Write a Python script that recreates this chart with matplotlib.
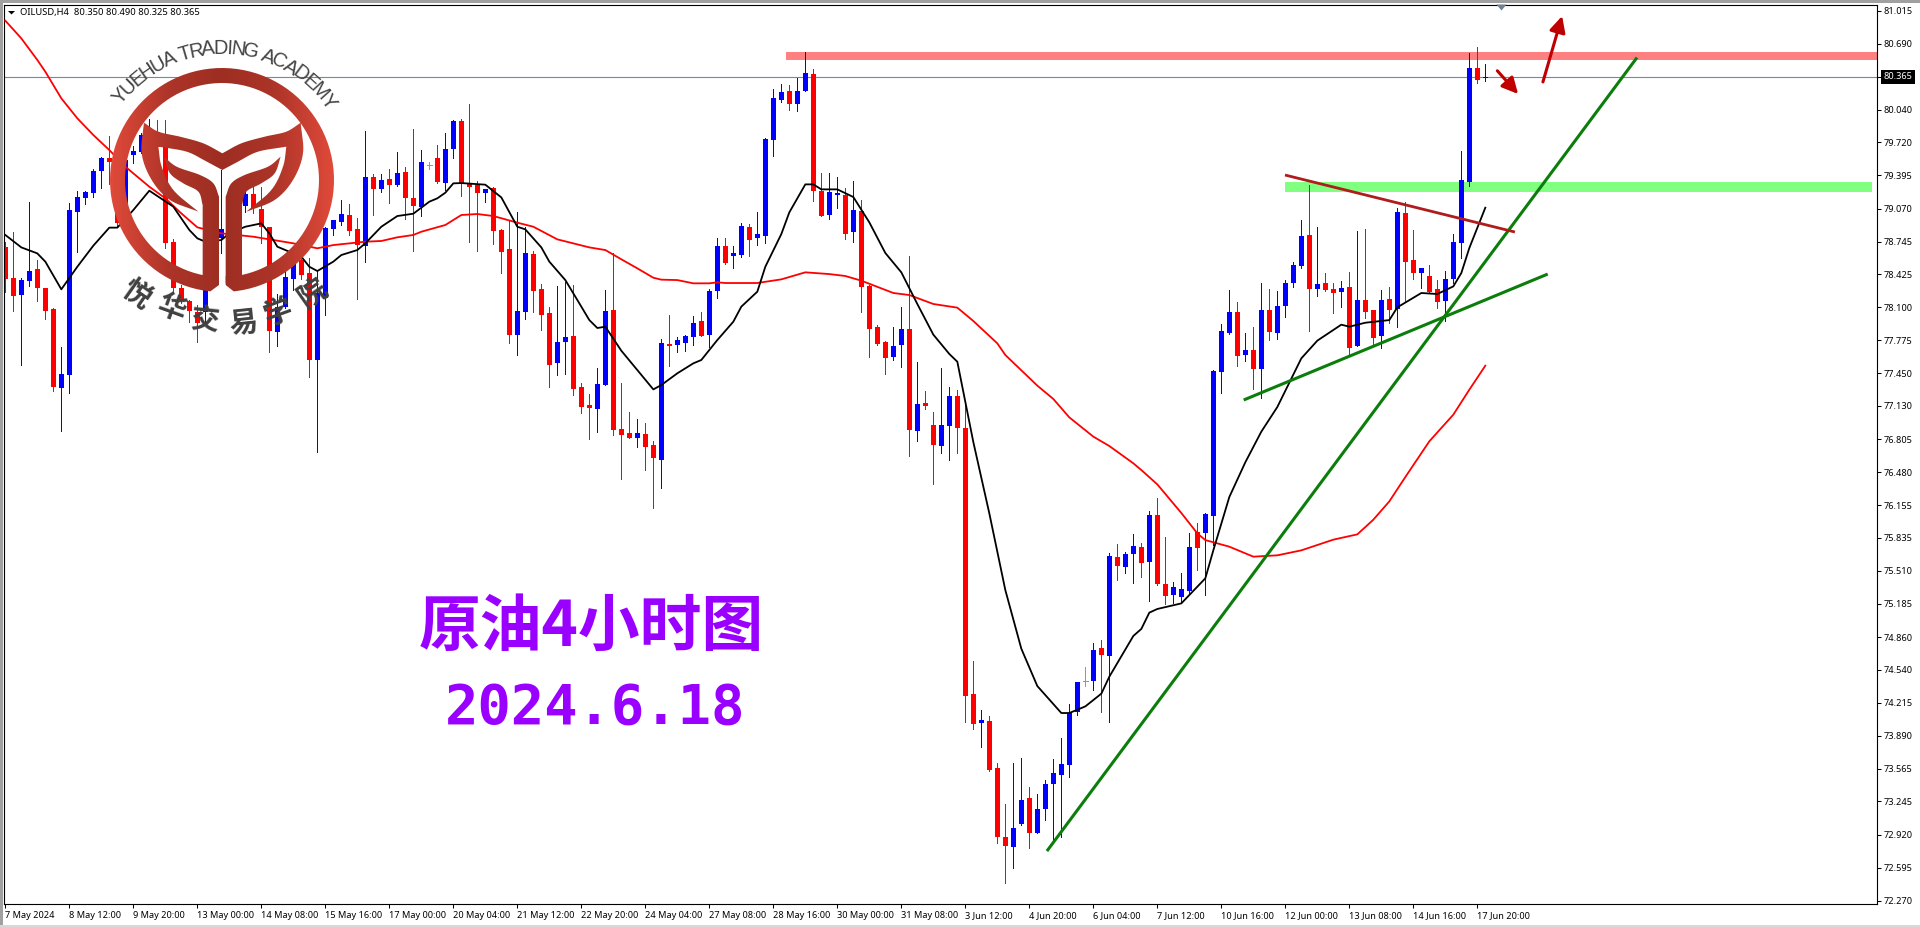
import numpy as np
import matplotlib
matplotlib.use("Agg")
import matplotlib.pyplot as plt
from matplotlib.colors import LinearSegmentedColormap
from matplotlib.font_manager import FontProperties
from matplotlib.path import Path
from matplotlib.patches import Polygon, Rectangle
from matplotlib.textpath import TextPath

# OILUSD H4 candles
opens = [78.695,78.384,78.223,78.358,78.472,78.286,78.083,77.310,77.438,79.039,
         79.173,79.225,79.441,79.563,79.530,78.931,79.595,79.628,79.792,79.825,
         79.677,78.744,78.292,78.161,78.056,78.056,78.826,78.783,78.859,79.022,
         79.094,79.209,79.062,78.891,77.860,78.106,78.374,78.564,78.433,77.582,
         78.187,78.868,78.937,79.006,78.868,78.705,79.376,79.261,79.360,79.301,
         79.428,79.173,79.088,79.497,79.566,79.317,79.658,79.929,79.317,79.301,
         79.225,79.271,78.859,78.669,77.831,78.056,78.623,78.279,78.040,77.555,
         77.762,77.817,77.313,77.136,77.104,77.339,78.073,76.904,76.861,76.819,
         76.855,76.743,76.603,77.739,77.732,77.752,77.811,77.961,77.831,78.263,
         78.702,78.607,78.616,78.888,78.780,78.803,79.746,80.136,80.224,80.096,
         80.224,80.391,79.242,79.009,79.202,79.199,78.836,79.042,78.305,77.906,
         77.758,77.614,77.729,77.886,76.887,77.159,76.943,76.737,76.937,77.228,
         76.917,74.301,74.019,74.036,73.574,72.896,72.801,73.020,73.279,72.932,
         73.168,73.413,73.508,73.603,74.121,74.425,74.432,74.753,74.671,75.650,
         75.548,75.673,75.745,75.594,76.059,75.378,75.270,75.250,75.309,75.892,
         75.879,76.049,77.460,77.847,78.053,77.634,77.680,77.497,78.073,77.847,
         78.115,78.338,78.505,78.806,78.279,78.338,78.276,78.253,78.299,77.716,
         78.171,78.073,77.817,78.181,78.086,79.026,78.561,78.440,78.407,78.276,
         78.165,78.374,78.734,79.330,80.450,80.350]
closes = [78.374,78.214,78.367,78.456,78.286,78.066,77.320,77.444,79.055,79.180,
          79.232,79.438,79.563,79.530,78.931,79.546,79.635,79.792,79.825,79.677,
          78.734,78.286,78.171,78.063,77.942,78.826,78.859,78.865,79.022,79.094,
          79.209,79.072,78.891,77.870,78.106,78.394,78.531,78.417,77.582,78.236,
          78.875,78.957,79.016,78.852,78.711,79.376,79.261,79.350,79.301,79.415,
          79.176,79.094,79.527,79.497,79.333,79.654,79.929,79.317,79.284,79.225,
          79.261,78.852,78.646,77.831,78.060,78.629,78.263,78.027,77.536,77.755,
          77.804,77.300,77.123,77.113,77.346,78.060,76.894,76.845,76.819,76.861,
          76.730,76.622,77.745,77.722,77.775,77.817,77.942,77.821,78.259,78.702,
          78.538,78.633,78.898,78.764,78.819,79.753,80.155,80.214,80.096,80.224,
          80.401,79.242,78.996,79.229,79.222,78.816,79.052,78.295,77.889,77.739,
          77.605,77.719,77.886,76.891,77.149,77.133,76.747,76.943,77.228,76.917,
          74.284,74.009,74.045,73.554,72.896,72.811,72.988,73.263,72.932,73.168,
          73.413,73.525,73.613,74.114,74.415,74.425,74.736,74.681,75.653,75.558,
          75.673,75.755,75.584,76.059,75.384,75.267,75.352,75.332,75.745,75.738,
          76.069,77.477,77.866,78.053,77.624,77.680,77.493,78.073,77.860,78.115,
          78.338,78.515,78.800,78.276,78.328,78.269,78.243,78.289,77.700,78.171,
          78.053,77.801,78.171,78.073,79.035,78.548,78.440,78.485,78.250,78.155,
          78.374,78.741,79.350,80.450,80.332,80.365]
highs = [78.744,78.836,78.384,79.134,78.564,78.290,78.089,77.706,79.121,79.242,
         79.242,79.455,79.579,79.782,79.546,79.579,79.684,79.808,79.949,79.939,
         79.939,78.770,78.318,78.171,78.122,78.859,78.990,79.448,79.072,79.121,
         79.301,79.284,79.278,78.891,78.230,78.498,78.695,78.711,78.580,78.466,
         78.891,78.957,79.153,79.114,78.973,79.831,79.409,79.409,79.455,79.625,
         79.481,79.851,79.645,79.527,79.694,79.815,79.939,79.949,80.096,79.340,
         79.261,79.284,78.868,78.957,79.032,78.891,78.656,78.328,78.106,78.309,
         78.351,78.318,77.352,77.248,77.503,78.269,78.629,77.352,77.071,76.999,
         76.960,76.786,77.788,78.024,77.808,77.827,78.014,78.053,78.279,78.780,
         78.780,78.702,78.927,78.918,79.035,79.762,80.244,80.293,80.283,80.352,
         80.607,80.440,79.419,79.419,79.383,79.274,79.340,79.153,78.322,77.929,
         77.768,77.906,78.099,78.603,77.559,77.277,77.068,77.503,77.320,77.287,
         77.179,74.622,74.140,74.085,73.623,73.217,73.620,73.669,73.384,73.318,
         73.453,73.659,73.868,74.206,74.422,74.566,74.802,74.831,75.689,75.774,
         75.696,75.869,75.784,76.102,76.226,75.843,75.398,75.486,75.879,75.980,
         76.075,77.487,77.935,78.269,78.151,77.847,77.906,78.341,78.279,78.256,
         78.368,78.548,78.954,79.301,78.888,78.436,78.341,78.358,78.446,78.849,
         78.868,78.073,78.269,78.299,79.078,79.130,78.859,78.485,78.512,78.368,
         78.456,78.819,79.635,80.597,80.656,80.490]
lows = [78.253,78.066,77.536,78.312,78.165,77.984,77.280,76.888,77.261,78.646,
        79.117,79.186,79.274,79.314,78.891,78.891,79.514,79.612,79.775,79.661,
        78.679,78.236,78.138,77.958,77.762,77.942,78.695,78.636,78.826,78.957,
        79.039,79.022,78.728,77.664,77.719,78.089,78.269,78.374,77.418,76.681,
        78.024,78.809,78.908,78.809,78.181,78.544,79.006,79.235,79.121,79.291,
        78.967,78.656,78.996,79.455,79.317,79.252,79.566,79.193,78.741,78.656,
        79.134,78.721,78.440,77.752,77.634,77.988,78.056,77.876,77.320,77.438,
        77.444,77.241,77.064,76.809,76.874,77.339,76.845,76.416,76.819,76.730,
        76.501,76.131,76.328,77.523,77.660,77.670,77.729,77.821,77.713,78.194,
        78.525,78.485,78.597,78.603,78.715,78.734,79.589,80.116,80.037,80.028,
        80.224,79.147,78.993,78.967,79.072,78.774,78.741,78.050,77.608,77.729,
        77.444,77.578,77.513,76.635,76.786,77.097,76.360,76.668,76.596,76.668,
        74.026,73.960,73.780,73.548,72.840,72.444,72.591,73.017,72.788,72.932,
        73.066,72.840,72.893,73.482,74.094,74.379,74.340,74.121,74.026,75.424,
        75.493,75.388,75.450,75.214,75.375,75.185,75.195,75.204,75.296,75.522,
        75.276,75.768,77.261,77.834,77.523,77.572,77.297,77.212,77.778,77.785,
        78.004,78.299,78.485,77.867,78.210,78.259,78.040,78.102,77.640,77.716,
        77.994,77.722,77.703,77.942,77.909,78.148,78.377,78.286,78.250,78.096,
        77.968,78.341,78.587,79.291,80.306,80.325]

# moving averages, read at the bars listed in *_bars
red_bars = [0,2,4,5,7,9,11,13,15,18,20,22,24,27,31,36,39,41,45,47,49,51,52,55,57,59,61,64,66,69,73,75,77,79,81,82,84,86,88,89,90,94,97,98,100,103,105,107,111,113,116,119,121,124,125,129,131,133,136,138,141,142,144,147,149,150,153,156,159,162,166,169,171,173,175,178,181,183,185]
red_ma = [80.915,80.741,80.529,80.414,80.152,79.956,79.792,79.644,79.481,79.284,79.170,79.022,78.885,78.826,78.793,78.728,78.679,78.711,78.744,78.751,78.787,78.810,78.842,78.908,79.006,79.016,78.996,78.931,78.891,78.767,78.688,78.662,78.571,78.482,78.390,78.371,78.367,78.335,78.335,78.345,78.338,78.338,78.374,78.397,78.443,78.426,78.407,78.361,78.240,78.220,78.132,78.096,77.965,77.745,77.631,77.330,77.199,77.018,76.829,76.737,76.567,76.501,76.360,76.079,75.879,75.813,75.748,75.650,75.663,75.712,75.817,75.869,76.013,76.193,76.432,76.783,77.045,77.290,77.526]
black_bars = [0,2,4,5,7,9,11,13,14,16,18,21,22,23,24,25,27,28,30,32,33,34,36,37,38,39,41,42,44,45,47,49,51,53,54,55,56,57,60,62,64,65,67,68,70,72,73,74,75,77,79,81,82,84,86,87,89,91,92,94,95,97,98,100,101,102,104,106,108,110,112,114,116,118,119,121,123,125,127,129,132,133,135,137,138,141,142,143,144,147,150,151,153,155,157,159,162,164,167,168,170,173,174,177,179,181,182,183,185]
black_ma = [78.810,78.688,78.629,78.548,78.276,78.498,78.705,78.882,78.882,79.055,79.245,79.088,78.973,78.859,78.777,78.744,78.760,78.826,78.891,78.924,78.826,78.695,78.629,78.597,78.498,78.456,78.548,78.613,78.662,78.728,78.891,78.996,79.019,79.137,79.170,79.225,79.317,79.320,79.304,79.179,78.891,78.865,78.688,78.548,78.367,78.106,77.974,77.896,77.909,77.673,77.483,77.293,77.336,77.451,77.549,77.582,77.778,77.958,78.106,78.253,78.498,78.819,79.032,79.307,79.307,79.258,79.258,79.183,78.934,78.633,78.443,78.132,77.831,77.641,77.565,76.776,76.075,75.322,74.746,74.379,74.114,74.114,74.179,74.304,74.471,74.871,74.940,75.100,75.136,75.191,75.437,75.712,76.236,76.577,76.878,77.120,77.598,77.772,77.929,77.909,77.948,77.974,78.099,78.240,78.230,78.305,78.436,78.682,79.078]

# trader's zones, trend lines and arrows as (bar, price)
red_zone = (97.6, 233.96, 80.529, 80.607)
green_zone = (159.96, 233.3, 79.232, 79.330)
resistance_line = [(159.96, 79.399), (188.7, 78.839)]
trend_lines = [[(130.2, 72.758), (203.96, 80.553)], [(154.8, 77.189), (192.8, 78.426)]]
arrows = [[(186.5, 80.423), (189.1, 80.195)], [(192.2, 80.313), (194.6, 80.961)]]

last_price = 80.365
y_ticks = [81.015,80.690,80.365,80.040,79.720,79.395,79.070,78.745,78.425,78.100,77.775,77.450,77.130,76.805,
           76.480,76.155,75.835,75.510,75.185,74.860,74.540,74.215,73.890,73.565,73.245,72.920,72.595,72.270]
x_labels = ["7 May 2024","8 May 12:00","9 May 20:00","13 May 00:00","14 May 08:00","15 May 16:00","17 May 00:00",
            "20 May 04:00","21 May 12:00","22 May 20:00","24 May 04:00","27 May 08:00","28 May 16:00","30 May 00:00",
            "31 May 08:00","3 Jun 12:00","4 Jun 20:00","6 Jun 04:00","7 Jun 12:00","10 Jun 16:00","12 Jun 00:00",
            "13 Jun 08:00","14 Jun 16:00","17 Jun 20:00"]
header = "OILUSD,H4  80.350 80.490 80.325 80.365"

UI_FONT = "Noto Sans"
CJK = ["Noto Sans CJK SC", "DejaVu Sans"]

fig = plt.figure(figsize=(19.2, 9.27), dpi=100, facecolor="white")
ax = fig.add_axes([4 / 1920, 1 - 904 / 927, 1873 / 1920, 899.5 / 927])

bars = np.arange(len(opens))
o, h, l, c = map(np.array, (opens, highs, lows, closes))
colors = np.where(c > o, "#0000FF", np.where(c < o, "#FF0000", "#00FF00"))

# zones go under the candles
for x0, x1, p0, p1 in (red_zone, green_zone):
    ax.fill_between([x0, x1], p0, p1, color="#FF8080" if x0 < 100 else "#80FF80", lw=0, zorder=1)
ax.axhline(last_price, color="#778899", lw=0.8, zorder=1.5)

#Candles
ax.vlines(bars, l, h, colors=colors, lw=0.6, antialiased=False, zorder=2)
solid = ~(o == c)
ax.bar(bars[solid], np.abs(c - o)[solid], bottom=np.minimum(o, c)[solid], width=0.62, color=colors[solid], lw=0,
       antialiased=False, zorder=2)
ax.hlines(o[~solid], bars[~solid] - 0.31, bars[~solid] + 0.31, colors="#00FF00", lw=0.6, antialiased=False, zorder=2)

ax.plot(red_bars, red_ma, color="#FF0000", lw=1.3, zorder=3)
ax.plot(black_bars, black_ma, color="black", lw=1.3, zorder=3)

#Trend lines and arrows
for line in trend_lines:
    ax.plot(*zip(*line), color="#0B7D0B", lw=2.2, solid_capstyle="butt", zorder=4)
ax.plot(*zip(*resistance_line), color="#B01C1C", lw=2.0, solid_capstyle="butt", zorder=4)
for tail, tip in arrows:
    ax.annotate("", xy=tip, xytext=tail, zorder=5,
                arrowprops=dict(arrowstyle="-|>", color="#C00000", lw=2.2, mutation_scale=24, shrinkA=0, shrinkB=0))

ax.set_xlim(-0.166, 233.96)
ax.set_ylim(72.238, 81.074)
ax.yaxis.tick_right()
ax.set_yticks(y_ticks)
ax.set_yticklabels(["%.3f" % t for t in y_ticks], fontsize=6.6, family=UI_FONT)
ax.set_xticks(bars[::8])
ax.set_xticklabels(x_labels, fontsize=6.6, family=UI_FONT, ha="left")
ax.tick_params(axis="y", length=3, width=0.75, pad=1.6)
ax.tick_params(axis="x", length=3, width=0.75, pad=2)
for s in ax.spines.values():
    s.set_linewidth(0.8)

# black tag on the axis for the current price
ax.text(1.0033, last_price, "%.3f" % last_price, transform=ax.get_yaxis_transform(), color="white", fontsize=6.6,
        family=UI_FONT, va="center", ha="left", zorder=6, clip_on=False,
        bbox=dict(facecolor="black", edgecolor="none", boxstyle="square,pad=0.28"))

#Overlay in pixel coordinates: window frame, header, logo, captions
px = fig.add_axes([0, 0, 1, 1], facecolor="none")
px.set_axis_off()
px.set_xlim(0, 1920)
px.set_ylim(927, 0)

px.add_patch(Rectangle((0, 0), 1920, 2.5, color="#A0A0A0", lw=0))
px.add_patch(Rectangle((0, 0), 2.5, 927, color="#A0A0A0", lw=0))
px.add_patch(Rectangle((0, 924.5), 1920, 2.5, color="#D8D8D8", lw=0))
px.add_patch(Polygon([(8, 11), (15, 11), (11.5, 14.5)], color="black", lw=0))
px.add_patch(Polygon([(1496.5, 4.5), (1506.5, 4.5), (1501.5, 10.5)], color="#708090", lw=0))
px.text(20, 12.5, header, fontsize=6.75, family=UI_FONT, va="center", ha="left", color="black")


def smooth(points, n=14):
    # Catmull-Rom through the points, ends kept sharp
    p = np.array(points, float)
    p = np.vstack([2 * p[0] - p[1], p, 2 * p[-1] - p[-2]])
    out = []
    for i in range(1, len(p) - 2):
        for t in np.linspace(0, 1, n, endpoint=False):
            out.append(0.5 * (2 * p[i] + (p[i + 1] - p[i - 1]) * t
                              + (2 * p[i - 1] - 5 * p[i] + 4 * p[i + 1] - p[i + 2]) * t ** 2
                              + (3 * p[i] - p[i - 1] - 3 * p[i + 1] + p[i + 2]) * t ** 3))
    out.append(p[-2])
    return np.array(out)


def mirror(points):
    return [(794 - x, y) for x, y in points][::-1]


# logo outline, sketched in a 3x crop with its centre at (396, 480)
top_left = [(162, 308), (205, 335), (270, 350), (340, 370), (397, 400)]
in_left = [(397, 450), (350, 425), (290, 395), (205, 380)]
leaf_in = [(205, 380), (215, 440), (250, 510), (325, 575)]
leaf_out = [(325, 575), (240, 540), (185, 480), (155, 400), (162, 308)]
crown = np.vstack([smooth(top_left), smooth(mirror(top_left)), smooth(mirror(leaf_out)), smooth(mirror(leaf_in)),
                   smooth(mirror(in_left)), smooth(in_left), smooth(leaf_in), smooth(leaf_out)])

stem_left = [(222, 410), (240, 460), (280, 490), (325, 515), (338, 555)]
stem_right = [(387, 530), (370, 490), (330, 465), (260, 440), (222, 410)]
stem_l = np.vstack([smooth(stem_left), [(338, 790), (387, 790)], smooth(stem_right)])
stem_r = np.column_stack([794 - stem_l[:, 0], stem_l[:, 1]])

angles = np.radians(np.linspace(-174, 174, 200))
angles_in = np.radians(np.linspace(168, -168, 200))
ring = np.vstack([np.column_stack([396 + 336 * np.sin(angles), 480 - 336 * np.cos(angles)]),
                  [(407, 795), (407, 768)],
                  np.column_stack([396 + 291 * np.sin(angles_in), 480 - 291 * np.cos(angles_in)]),
                  [(387, 768), (387, 795)]])

logo_map = LinearSegmentedColormap.from_list("logo", [(0, "#E04A3A"), (0.27, "#AC3428"), (0.5, "#9E2E22"),
                                                      (0.73, "#AC3428"), (1, "#E04A3A")])
gradient = np.linspace(0, 1, 256).reshape(1, -1)
for shape in (ring, crown, stem_l, stem_r):
    verts = np.column_stack([90 + shape[:, 0] / 3, 20 + shape[:, 1] / 3])
    im = px.imshow(gradient, extent=(110, 334, 292, 68), cmap=logo_map, aspect="auto", interpolation="bilinear")
    im.set_clip_path(Path(np.vstack([verts, verts[0]])), transform=px.transData)
px.set_xlim(0, 1920)
px.set_ylim(927, 0)

# academy name along the top of the ring
name = "YUEHUA TRADING ACADEMY"
fp = FontProperties(family="Liberation Sans")
base = TextPath((0, 0), "||", size=14, prop=fp).get_extents().width
widths = np.array([TextPath((0, 0), "|" + ch + "|", size=14, prop=fp).get_extents().width - base for ch in name])
centres = np.cumsum(widths) - widths / 2
theta = np.radians(-53 + 109 * centres / widths.sum())
for ch, th in zip(name, theta):
    px.text(222 + 126 * np.sin(th), 180 - 126 * np.cos(th), ch, fontproperties=fp, fontsize=14.5, color="#454545",
            rotation=-np.degrees(th), rotation_mode="anchor", ha="center", va="baseline")

# chinese name along the bottom
cn_name = "悦华交易学院"
cn_x = [136, 171, 205, 243, 278, 312]
cn_y = [294, 309, 321, 323, 313, 294]
cn_rot = [-35, -20, -6, 6, 20, 35]
for ch, x, y, r in zip(cn_name, cn_x, cn_y, cn_rot):
    px.text(x, y, ch, family=CJK, fontsize=20.5, weight="bold", color="#404040", rotation=r,
            rotation_mode="anchor", ha="center", va="center")

px.text(591, 627, "原油4小时图", family=CJK, fontsize=44.5, weight="bold", color="#9900FF", ha="center", va="center")
px.text(595, 708, "2024.6.18", family="DejaVu Sans Mono", fontsize=40, weight="bold", color="#9900FF",
        ha="center", va="center")

fig.savefig("out.png", dpi=100, facecolor="white")
